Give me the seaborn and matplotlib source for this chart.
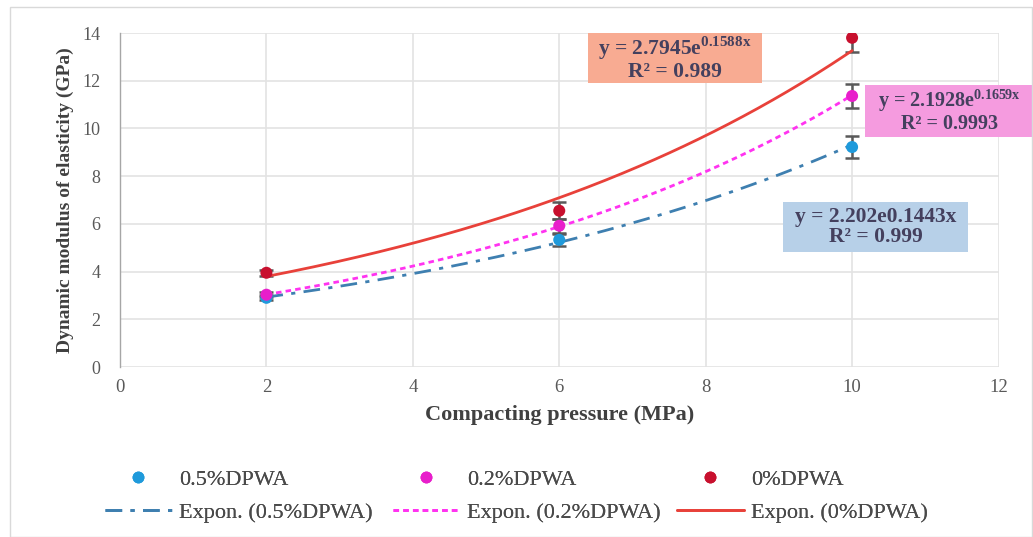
import numpy as np
import pandas as pd
import matplotlib
matplotlib.use("Agg")
import matplotlib.pyplot as plt
import seaborn as sns
from matplotlib.lines import Line2D
from matplotlib.patches import Rectangle

# ---- data ----
pressure = [2, 6, 10]
series_names = ["0.5%DPWA", "0.2%DPWA", "0%DPWA"]
mod_05 = [2.90, 5.33, 9.22]
mod_02 = [3.03, 5.92, 11.36]
mod_00 = [3.95, 6.55, 13.80]
err_05 = [0.10, 0.25, 0.45]
err_02 = [0.10, 0.30, 0.50]
err_00 = [0.12, 0.35, 0.60]
eq_texts = ["y = 2.202e0.1443x\nR² = 0.999",
            "y = 2.1928e$^{\\mathbf{0.1659x}}$\nR² = 0.9993",
            "y = 2.7945e$^{\\mathbf{0.1588x}}$\nR² = 0.989"]
x_ticks = [0, 2, 4, 6, 8, 10, 12]
y_ticks = [0, 2, 4, 6, 8, 10, 12, 14]

sns.set_theme(style="white")
plt.rcParams['font.family'] = ['Liberation Serif', 'DejaVu Serif']
plt.rcParams['mathtext.fontset'] = 'custom'
plt.rcParams['mathtext.rm'] = 'Liberation Serif'
plt.rcParams['mathtext.bf'] = 'Liberation Serif:bold'

marker_colors = ["#1F9ADB", "#E81ECB", "#C8102E"]
line_colors = ["#3E7FB0", "#FF33F0", "#E8413A"]
line_styles = [(0, (6, 3, 1.5, 3)), (0, (2, 1.5)), "-"]
values = [mod_05, mod_02, mod_00]
errors = [err_05, err_02, err_00]
box_colors = ["#B7D0E8", "#F59BDF", "#F8AB92"]
# box extents in data units (x0, x1, y0, y1) and text anchor
box_ext = [(9.05, 11.59, 4.82, 6.92), (10.18, 12.75, 9.64, 11.82), (6.386, 8.776, 11.90, 14.0)]
text_x = [10.32, 11.33, 7.58]
text_size = [15.5, 14.5, 15.5]

fig = plt.figure(figsize=(10.33, 5.37), dpi=100)
fig.patches.append(Rectangle((10/1033, 0), 1 - 10/1033 - 0.001, 1 - 7/537, transform=fig.transFigure,
                             fill=False, edgecolor="#D9D9D9", linewidth=1.0))
ax = fig.add_axes([120/1033, 1 - 367/537, (998.5 - 120)/1033, (367 - 33)/537])

rows = []
for name, vals in zip(series_names, values):
    for p, v in zip(pressure, vals):
        rows.append({"pressure": p, "modulus": v, "series": name})
df = pd.DataFrame(rows)

xs = np.linspace(2, 10, 200)
fit_rows = []
for name, vals in zip(series_names, values):
    b, lna = np.polyfit(pressure, np.log(vals), 1)
    for xv in xs:
        fit_rows.append({"pressure": xv, "modulus": np.exp(lna) * np.exp(b * xv), "series": name})
fit_df = pd.DataFrame(fit_rows)

# error bars
for vals, errs in zip(values, errors):
    ax.errorbar(pressure, vals, yerr=errs, fmt="none", ecolor="#595959", elinewidth=1.8,
                capsize=5, capthick=1.8, zorder=3)

# trend lines
for name, c, ls in zip(series_names, line_colors, line_styles):
    sub = fit_df[fit_df["series"] == name]
    sns.lineplot(data=sub, x="pressure", y="modulus", ax=ax, color=c, linewidth=2.0,
                 linestyle=ls, legend=False, zorder=4)

# points
for name, c in zip(series_names, marker_colors):
    sub = df[df["series"] == name]
    sns.scatterplot(data=sub, x="pressure", y="modulus", ax=ax, color=c, s=75,
                    edgecolor="none", legend=False, zorder=5)

ax.set_xlim(0, 12)
ax.set_ylim(0, 14)
ax.set_xticks(x_ticks)
ax.set_yticks(y_ticks)
ax.grid(True, color="#E3E3E3", linewidth=1.2)
ax.set_axisbelow(True)
for s in ["top", "right", "bottom"]:
    ax.spines[s].set_visible(False)
ax.spines["left"].set_color("#A6A6A6")
ax.spines["left"].set_linewidth(1.0)
ax.tick_params(axis="y", labelsize=13, colors="#595959", length=0, pad=14)
ax.tick_params(axis="x", labelsize=13.5, colors="#595959", length=0, pad=9)
ax.set_xlabel("Compacting pressure (MPa)", fontsize=16, fontweight="bold", color="#404040", labelpad=6)
ax.set_ylabel("Dynamic modulus of elasticity (GPa)", fontsize=14, fontweight="bold", color="#404040", labelpad=6)

# equation boxes
for (x0, x1, y0, y1), tx, fs, t, bc in zip(box_ext, text_x, text_size, eq_texts, box_colors):
    ax.add_patch(Rectangle((x0, y0), x1 - x0, y1 - y0, facecolor=bc, edgecolor="none",
                           zorder=6, clip_on=False))
    ax.text(tx, (y0 + y1) / 2, t, fontsize=fs, fontweight="bold", color="#44405E",
            ha="center", va="center", multialignment="center", linespacing=1.0, zorder=7,
            clip_on=False)

# legends: one per series column
handle_x = [105, 393, 677]
for name, mc, lc, ls, hx in zip(series_names, marker_colors, line_colors, line_styles, handle_x):
    hs = [Line2D([], [], linestyle="none", marker="o", markersize=8.5,
                 markerfacecolor=mc, markeredgecolor="none"),
          Line2D([], [], color=lc, linestyle=ls, linewidth=2.0)]
    lb = [name, "Expon. (" + name + ")"]
    leg = fig.legend(hs, lb, loc="center left", bbox_to_anchor=(hx / 1033, 1 - 496 / 537),
                     frameon=False, fontsize=16, handlelength=3.0, handletextpad=0.35,
                     labelspacing=0.55, borderpad=0, borderaxespad=0)
    for t in leg.get_texts():
        t.set_color("#4A4A4A")
    fig.add_artist(leg)

fig.savefig("out.png", dpi=100)
